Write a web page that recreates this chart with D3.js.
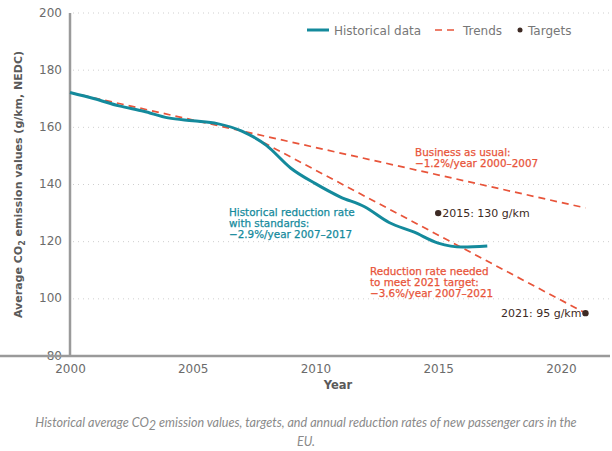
<!DOCTYPE html>
<html>
<head>
<meta charset="utf-8">
<script src="https://cdn.jsdelivr.net/npm/d3@7"></script>
<style>
  html, body { margin: 0; padding: 0; background: #fff; }
  svg { display: block; }
</style>
</head>
<body>
<div id="chart"></div>
<script>
// Historical fleet average (g/km, NEDC)
const years = [2000, 2001, 2002, 2003, 2004, 2005, 2006, 2007, 2008, 2009, 2010, 2011, 2012, 2013, 2014, 2015, 2016, 2017];
const historical = [172.2, 170.0, 167.5, 165.6, 163.3, 162.3, 161.3, 158.7, 153.7, 145.7, 140.3, 135.7, 132.2, 126.7, 123.4, 119.5, 118.1, 118.5];

// Trend lines: [year, value] end points
const trendBau = [[2000, 172.2], [2021, 131.8]];
const trendNeeded = [[2007, 158.7], [2021, 95]];

// Regulatory targets
const targetYears = [2015, 2021];
const targetValues = [130, 95];
const targetLabels = ["2015: 130 g/km", "2021: 95 g/km"];

const xTicks = [2000, 2005, 2010, 2015, 2020];
const yTicks = [80, 100, 120, 140, 160, 180, 200];

const W = 612, H = 451;
const TEAL = "#148a9c", RED = "#e8543a", DOT = "#3d2a24", GRID = "#cfcfcf", AXIS = "#9a9a9a", TICK = "#6b6b6b";
const FONT = "'DejaVu Sans', sans-serif";

const svg = d3.select("#chart").append("svg").attr("width", W).attr("height", H);

const x = d3.scaleLinear().domain([2000, 2022]).range([70, 610]);
const y = d3.scaleLinear().domain([80, 200]).range([356, 13]);

// dotted horizontal gridlines
svg.append("g").selectAll("line").data(yTicks.slice(1)).join("line")
  .attr("x1", 73).attr("x2", 610)
  .attr("y1", d => y(d)).attr("y2", d => y(d))
  .attr("stroke", GRID).attr("stroke-width", 1).attr("stroke-dasharray", "1,4");

// axes
const yAxis = svg.append("g").attr("transform", "translate(70,0)")
  .call(d3.axisLeft(y).tickValues(yTicks).tickSize(0).tickPadding(8));
const xAxis = svg.append("g").attr("transform", "translate(0,356)")
  .call(d3.axisBottom(x).tickValues(xTicks).tickSize(0).tickPadding(8).tickFormat(d3.format("d")));
[yAxis, xAxis].forEach(g => {
  g.select(".domain").attr("stroke", AXIS).attr("stroke-width", 2.5);
  g.selectAll("text").attr("fill", TICK).style("font-family", FONT).style("font-size", "12px");
});
yAxis.selectAll(".tick text").attr("dy", "0.25em");
yAxis.select(".domain").attr("d", `M0,${y(200)}V${y(80)}`);
xAxis.select(".domain").attr("d", `M0,0H610`);

// axis titles
svg.append("text")
  .attr("transform", `translate(22,${(y(200) + y(80)) / 2}) rotate(-90)`)
  .attr("text-anchor", "middle").attr("fill", "#5a5a5a")
  .style("font-family", FONT).style("font-size", "11px").style("font-weight", "bold")
  .html('Average CO<tspan font-size="8px" dy="3">2</tspan><tspan dy="-3"> emission values (g/km, NEDC)</tspan>');

svg.append("text").attr("x", 338).attr("y", 389).attr("text-anchor", "middle")
  .attr("fill", "#5a5a5a").style("font-family", FONT).style("font-size", "11.5px").style("font-weight", "bold")
  .text("Year");

// trend lines
const line = d3.line().x(d => x(d[0])).y(d => y(d[1]));
[trendBau, trendNeeded].forEach(t => {
  svg.append("path").datum(t).attr("d", line).attr("fill", "none")
    .attr("stroke", RED).attr("stroke-width", 1.7).attr("stroke-dasharray", "7,5");
});

// historical series
svg.append("path").datum(years.map((yr, i) => [yr, historical[i]]))
  .attr("d", d3.line().x(d => x(d[0])).y(d => y(d[1])).curve(d3.curveMonotoneX))
  .attr("fill", "none").attr("stroke", TEAL).attr("stroke-width", 3).attr("stroke-linejoin", "round");

// targets
svg.append("g").selectAll("circle").data(targetYears).join("circle")
  .attr("cx", d => x(d)).attr("cy", (d, i) => y(targetValues[i])).attr("r", 3.2).attr("fill", DOT);

const tl = svg.append("g").style("font-family", FONT).style("font-size", "11px").attr("fill", DOT);
tl.append("text").attr("x", x(targetYears[0]) + 4).attr("y", y(targetValues[0]) + 4).text(targetLabels[0]);
tl.append("text").attr("x", x(targetYears[1]) - 4).attr("y", y(targetValues[1]) + 4)
  .attr("text-anchor", "end").text(targetLabels[1]);

// annotations
function note(lines, x0, y0, color) {
  const t = svg.append("text").attr("fill", color).style("font-family", FONT)
    .style("font-size", "10.4px").attr("stroke", color).attr("stroke-width", 0.25);
  lines.forEach((s, i) => t.append("tspan").attr("x", x0).attr("y", y0 + i * 11.2).text(s));
}
note(["Business as usual:", "\u22121.2%/year 2000\u20132007"], 415, 155.5, RED);
note(["Historical reduction rate", "with standards:", "\u22122.9%/year 2007\u20132017"], 229, 215.5, TEAL);
note(["Reduction rate needed", "to meet 2021 target:", "\u22123.6%/year 2007\u20132021"], 370, 274.5, RED);

// legend
const lg = svg.append("g").style("font-family", FONT).style("font-size", "12px").attr("fill", "#777");
lg.append("line").attr("x1", 307).attr("x2", 329).attr("y1", 30).attr("y2", 30).attr("stroke", TEAL).attr("stroke-width", 3);
lg.append("text").attr("x", 334).attr("y", 34.5).text("Historical data");
lg.append("line").attr("x1", 435).attr("x2", 457).attr("y1", 30).attr("y2", 30).attr("stroke", RED).attr("stroke-width", 1.7).attr("stroke-dasharray", "7,5");
lg.append("text").attr("x", 463).attr("y", 34.5).text("Trends");
lg.append("circle").attr("cx", 520).attr("cy", 30).attr("r", 2.5).attr("fill", DOT);
lg.append("text").attr("x", 528).attr("y", 34.5).text("Targets");

// caption
const cap = svg.append("text").attr("text-anchor", "middle").attr("fill", "#8a8a8a")
  .style("font-family", "Lato, sans-serif").style("font-size", "12.6px").style("font-style", "italic");
cap.append("tspan").attr("x", 306).attr("y", 427).text("Historical average CO");
cap.append("tspan").attr("dy", 3).text("2");
cap.append("tspan").attr("dy", -3).text(" emission values, targets, and annual reduction rates of new passenger cars in the");
cap.append("tspan").attr("x", 306).attr("y", 446).text("EU.");
</script>
</body>
</html>
